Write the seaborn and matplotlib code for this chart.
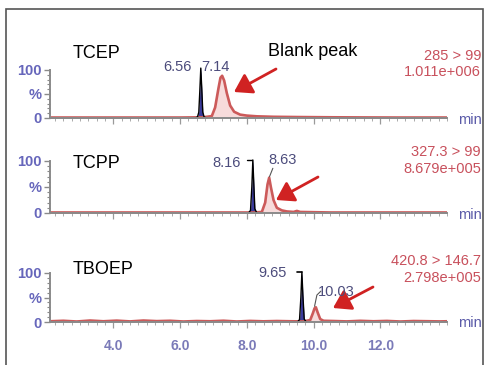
import matplotlib
matplotlib.use("Agg")
import matplotlib.pyplot as plt
from matplotlib.patches import Rectangle
from matplotlib.ticker import MultipleLocator
import seaborn as sns

# ---------------- data ----------------
compounds = ["TCEP", "TCPP", "TBOEP"]
transitions = ["285 > 99", "327.3 > 99", "420.8 > 146.7"]
intensities = ["1.011e+006", "8.679e+005", "2.798e+005"]
rt_labels = [("6.56", "7.14"), ("8.16", "8.63"), ("9.65", "10.03")]

# analyte peak (black / blue filled)
tcep_pk_t = [6.45, 6.52, 6.56, 6.59, 6.62, 6.65, 6.68, 6.72, 6.80]
tcep_pk_i = [0, 2, 12, 55, 104, 60, 12, 2, 0]
tcpp_pk_t = [8.05, 8.11, 8.15, 8.18, 8.21, 8.24, 8.30]
tcpp_pk_i = [0, 5, 50, 102, 55, 8, 0]
tboep_pk_t = [9.52, 9.58, 9.62, 9.65, 9.68, 9.72, 9.78]
tboep_pk_i = [0, 5, 50, 102, 55, 6, 0]

# blank trace (red)
tcep_bl_t = [2.1, 3.0, 4.0, 5.0, 6.0, 6.7, 6.95, 7.05, 7.15, 7.21, 7.26, 7.32, 7.40,
             7.50, 7.62, 7.80, 8.00, 8.30, 8.80, 9.50, 10.5, 11.5, 12.5, 13.5, 14.0]
tcep_bl_i = [1.0, 1.0, 1.0, 1.0, 1.0, 1.5, 4, 22, 62, 84, 88, 78, 52,
             26, 13, 7, 5, 3.5, 2.5, 2, 1.5, 1.2, 1, 1, 1]
tcpp_bl_t = [2.1, 3.5, 5.0, 6.5, 7.5, 8.2, 8.45, 8.55, 8.62, 8.67, 8.72, 8.80,
             8.90, 9.05, 9.2, 9.4, 9.5, 9.6, 10.5, 12.0, 14.0]
tcpp_bl_i = [1, 1, 1, 1, 1, 1, 2, 20, 55, 68, 50, 25,
             10, 5, 3, 2, 4, 2, 1, 1, 1]
tboep_bl_t = [2.1, 2.5, 2.9, 3.3, 3.7, 4.1, 4.5, 4.9, 5.3, 5.7, 6.1, 6.5, 6.9, 7.3,
              7.7, 8.1, 8.5, 8.9, 9.3, 9.7, 9.9, 9.98, 10.03, 10.07, 10.12, 10.2,
              10.3, 10.6, 11.0, 11.4, 11.8, 12.2, 12.6, 13.0, 13.4, 13.8, 14.0]
tboep_bl_i = [1.5, 2.5, 1.0, 3.0, 1.5, 2.8, 1.2, 3.0, 1.8, 2.5, 1.0, 2.0, 1.5, 2.6,
              1.0, 2.2, 1.4, 2.0, 1.5, 1.2, 4, 18, 28, 30, 20, 6,
              2.5, 2.0, 1.2, 2.4, 1.5, 2.2, 1.0, 2.0, 1.6, 1.2, 1.5]

pk_t = [tcep_pk_t, tcpp_pk_t, tboep_pk_t]
pk_i = [tcep_pk_i, tcpp_pk_i, tboep_pk_i]
bl_t = [tcep_bl_t, tcpp_bl_t, tboep_bl_t]
bl_i = [tcep_bl_i, tcpp_bl_i, tboep_bl_i]

# ---------------- style ----------------
sns.set_style("white")
plt.rcParams['font.family'] = ['Liberation Sans', 'DejaVu Sans']

W, H = 488, 365
fig = plt.figure(figsize=(W / 100, H / 100), dpi=100)

def px(x, y):
    return x / W, 1 - y / H

BLUE_TXT = "#6666bb"
PEAK_TXT = "#4c4c7c"
RED_TXT = "#c8505c"
RED_LINE = "#cc5a5a"

# pixel rows of 0% and 100% for each panel
zero_px = [118, 213, 322]
full_px = [70, 161, 273]
x_left, x_right = 50, 447
xmin, xmax = 2.1, 14.0
ymin, ymax = -2, 108

axes = []
for i in range(3):
    ppu = (zero_px[i] - full_px[i]) / 100
    bot = zero_px[i] - ymin * ppu
    top = full_px[i] - (ymax - 100) * ppu
    ax = fig.add_axes([x_left / W, 1 - bot / H, (x_right - x_left) / W, (bot - top) / H])
    ax.set_xlim(xmin, xmax)
    ax.set_ylim(ymin, ymax)
    ax.patch.set_alpha(0)

    # blank trace
    sns.lineplot(x=bl_t[i], y=bl_i[i], ax=ax, color=RED_LINE, lw=1.9, sort=False)
    ax.fill_between(bl_t[i], 0, bl_i[i], color="#f2c4c4", alpha=0.6, lw=0)
    # analyte peak
    ax.fill_between(pk_t[i], 0, pk_i[i], color="#3a3a9c", lw=0)
    sns.lineplot(x=pk_t[i], y=pk_i[i], ax=ax, color="black", lw=1.0, sort=False)

    for s in ["top", "right"]:
        ax.spines[s].set_visible(False)
    ax.spines["left"].set_bounds(0, 100)
    ax.spines["left"].set_position(("data", xmin))
    ax.spines["bottom"].set_position(("data", 0))
    for s in ["left", "bottom"]:
        ax.spines[s].set_color("#8a8a8a")
        ax.spines[s].set_linewidth(1.4)

    ax.set_yticks([0, 50, 100])
    ax.set_yticklabels(["0", "%", "100"])
    ax.yaxis.set_minor_locator(MultipleLocator(10))
    ax.tick_params(axis="y", which="major", length=4, width=1, color="#8a8a8a",
                   labelsize=10.5, labelcolor=BLUE_TXT, pad=2, left=True)
    ax.tick_params(axis="y", which="minor", length=2.5, width=0.8, color="#8a8a8a", left=True)
    for lab in ax.get_yticklabels():
        lab.set_fontweight("bold")

    ax.set_xticks([4, 6, 8, 10, 12])
    ax.xaxis.set_minor_locator(MultipleLocator(0.25))
    ax.tick_params(axis="x", which="major", length=4, width=0.9, color="#9a9a9a",
                   labelsize=10, labelcolor="#7a7ab8", pad=8, bottom=True)
    ax.tick_params(axis="x", which="minor", length=2.5, width=0.7, color="#aaaaaa", bottom=True)
    if i < 2:
        ax.set_xticklabels([])
    else:
        ax.set_xticklabels(["4.0", "6.0", "8.0", "10.0", "12.0"])
        for lab in ax.get_xticklabels():
            lab.set_fontweight("bold")
    ax.set_xlabel("")
    ax.set_ylabel("")
    ax.grid(False)
    axes.append(ax)

# connector ticks from retention time labels to peaks
axes[1].plot([8.02, 8.16], [101, 101], color="black", lw=1, clip_on=False)
axes[1].plot([8.78, 8.68], [86, 70], color="#555555", lw=0.8, clip_on=False)
axes[2].plot([9.50, 9.66], [102, 102], color="black", lw=1.2, clip_on=False)
axes[2].plot([10.22, 10.10, 10.03], [63, 55, 32], color="#555555", lw=0.8, clip_on=False)

# compound names
name_y = [53, 163, 270]
for name, y in zip(compounds, name_y):
    fig.text(*px(73, y), name, fontsize=13, color="black", va="center", ha="left")
fig.text(*px(268, 52), "Blank peak", fontsize=13, color="black", va="center", ha="left")

# transition / intensity text (top right)
tr_y = [(56, 72), (152, 169), (261, 278)]
for (y1, y2), tr, it in zip(tr_y, transitions, intensities):
    fig.text(*px(481, y1), tr, fontsize=10.5, color=RED_TXT, ha="right", va="center")
    fig.text(*px(481, y2), it, fontsize=10.5, color=RED_TXT, ha="right", va="center")

# retention time labels
rt_pos = [((192, 67), (201, 67)), ((212, 163), (268, 160)), ((258, 273), (318, 292))]
for (a, b), ((xa, ya), (xb, yb)) in zip(rt_labels, rt_pos):
    fig.text(*px(xa, ya), a, fontsize=10.5, color=PEAK_TXT, ha="right" if a == "6.56" else "left", va="center")
    fig.text(*px(xb, yb), b, fontsize=10.5, color=PEAK_TXT, ha="left", va="center")

# "min" unit labels
for y in [120, 215, 323]:
    fig.text(*px(458, y), "min", fontsize=10.5, color="#5a5aa8", ha="left", va="center")

# red arrows (pixel coords: tail -> head)
arrows = [((276, 69), (234, 92)), ((318, 177), (276, 200)), ((373, 287), (333, 308))]
for (tx, ty), (hx, hy) in arrows:
    fig.add_artist(matplotlib.patches.FancyArrowPatch(
        px(tx, ty), px(hx, hy), transform=fig.transFigure,
        arrowstyle="-|>,head_length=7,head_width=4.5", color="#d02222", lw=2,
        mutation_scale=1.5, shrinkA=0, shrinkB=0))

# outer frame
fig.add_artist(Rectangle(px(6, 380), (483 - 6) / W, (380 - 9) / H,
                         transform=fig.transFigure, fill=False, ec="#555555", lw=1.2))

fig.savefig("out.png", dpi=100)
